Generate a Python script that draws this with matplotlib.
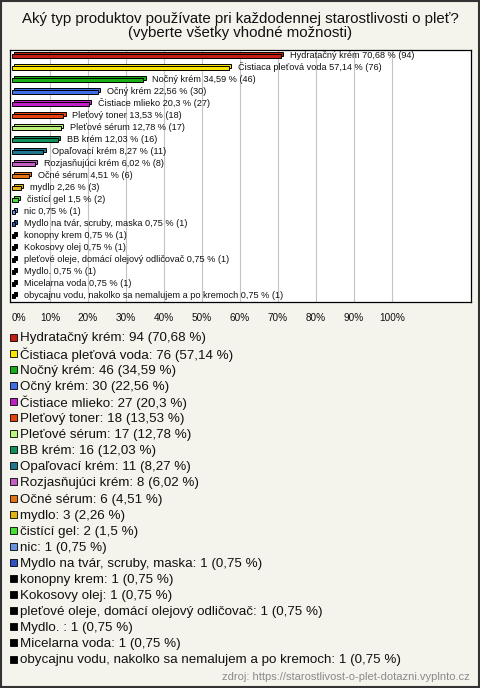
"""
Survey bar chart: skin-care products used daily (vyplnto.cz style).
"""

import matplotlib
matplotlib.use("Agg")
import matplotlib.pyplot as plt
from matplotlib.patches import Rectangle

plt.rcParams["font.family"] = ["Liberation Sans", "DejaVu Sans"]

# Data
categories = [
    "Hydratačný krém",
    "Čistiaca pleťová voda",
    "Nočný krém",
    "Očný krém",
    "Čistiace mlieko",
    "Pleťový toner",
    "Pleťové sérum",
    "BB krém",
    "Opaľovací krém",
    "Rozjasňujúci krém",
    "Očné sérum",
    "mydlo",
    "čistící gel",
    "nic",
    "Mydlo na tvár, scruby, maska",
    "konopny krem",
    "Kokosovy olej",
    "pleťové oleje, domácí olejový odličovač",
    "Mydlo. ",
    "Micelarna voda",
    "obycajnu vodu, nakolko sa nemalujem a po kremoch",
]
counts = [94, 76, 46, 30, 27, 18, 17, 16, 11, 8, 6, 3, 2, 1, 1, 1, 1, 1, 1, 1, 1]
percents = [70.68, 57.14, 34.59, 22.56, 20.3, 13.53, 12.78, 12.03, 8.27, 6.02,
            4.51, 2.26, 1.5, 0.75, 0.75, 0.75, 0.75, 0.75, 0.75, 0.75, 0.75]
colors = ["#c41e12", "#f7e400", "#16b016", "#3f6ee6", "#c21ec8", "#e8420e",
          "#bdf27a", "#12905c", "#1f7890", "#c45ec2", "#e27414", "#e0b414",
          "#44e034", "#6692de", "#2f52c2", "#000000", "#000000", "#000000",
          "#000000", "#000000", "#000000"]
tick_values = [0, 10, 20, 30, 40, 50, 60, 70, 80, 90, 100]

title = ("Aký typ produktov používate pri každodennej starostlivosti o pleť?\n"
         "(vyberte všetky vhodné možnosti)")
source = "zdroj: https://starostlivost-o-plet-dotazni.vyplnto.cz"


def fmt(v):
    s = f"{v:.2f}".rstrip("0").rstrip(".")
    return s.replace(".", ",")


W, H = 480, 688
bg = "#f4f3ec"
fig = plt.figure(figsize=(W / 100, H / 100), dpi=100, facecolor=bg)

# Title
fig.text(0.5, 1 - 26 / H, title, ha="center", va="center", fontsize=10.8,
         linespacing=1.0, color="#111111")

# Bar axes
ax = fig.add_axes([10 / W, 1 - 302 / H, 461 / W, 252 / H])
ax.set_facecolor("white")
n = len(categories)
ys = list(range(n))
ax.set_xlim(-0.53, 120.8)
ax.set_ylim(n - 0.5, -0.5)

for x in tick_values[1:]:
    ax.axvline(x, color="#c4c4c4", lw=0.8, zorder=0)

dx, dy = 0.55, 0.16
bh = 0.40
# back face (gives a 3D box look)
ax.barh([y - dy for y in ys], percents, left=dx, height=bh, color=colors,
        edgecolor="black", linewidth=0.7, zorder=2)
ax.barh(ys, percents, height=bh, color=colors, edgecolor="black",
        linewidth=0.7, zorder=3)

for y, cat, p, c in zip(ys, categories, percents, counts):
    ax.annotate(f"{cat.strip()} {fmt(p)} % ({c})", xy=(p + dx, y - dy / 2),
                xytext=(5, 0), textcoords="offset points", va="center",
                ha="left", fontsize=6.6, color="#111111", zorder=4)

ax.set_xticks(tick_values)
ax.set_xticklabels([f"{t}%" for t in tick_values], fontsize=7.2, color="#111111")
ax.get_xticklabels()[0].set_ha("left")
ax.tick_params(axis="x", length=0, pad=8)
ax.set_yticks([])
for sp in ax.spines.values():
    sp.set_color("black")
    sp.set_linewidth(0.9)

# Legend (drawn in pixel coords)
lax = fig.add_axes([0, 0, 1, 1])
lax.set_xlim(0, W)
lax.set_ylim(H, 0)
lax.axis("off")
lax.patch.set_alpha(0)
y0, step = 337, 16.1
for i, (cat, p, c, col) in enumerate(zip(categories, percents, counts, colors)):
    yy = y0 + i * step
    lax.add_patch(Rectangle((9.5, yy - 3.5), 7, 7, facecolor=col,
                            edgecolor="black", linewidth=0.6))
    lax.text(20, yy, f"{cat}: {c} ({fmt(p)} %)", va="center_baseline",
             ha="left", fontsize=9.6, color="#111111")

lax.text(470, 677, source, ha="right", va="center", fontsize=8,
         color="#8a8a8a")

# Outer frame
lax.add_patch(Rectangle((0.5, 0.5), W - 1.5, H - 1.5, fill=False,
                        edgecolor="#333333", linewidth=1.5))

fig.savefig("out.png", dpi=100, facecolor=bg)
